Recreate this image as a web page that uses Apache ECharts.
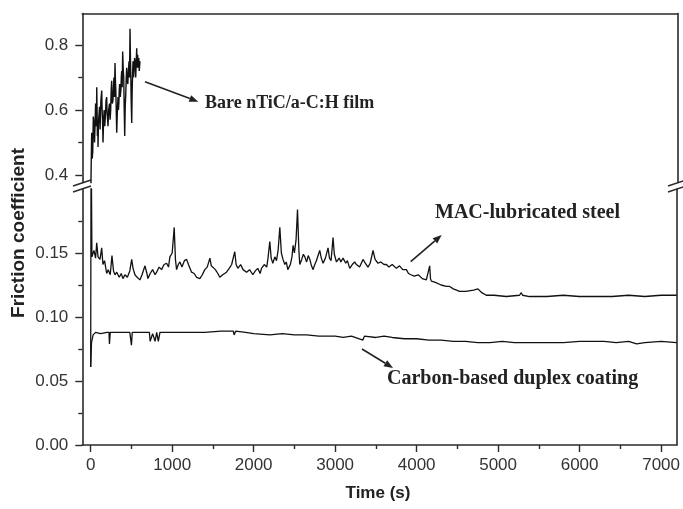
<!DOCTYPE html>
<html>
<head>
<meta charset="utf-8">
<script src="https://cdn.jsdelivr.net/npm/echarts@6/dist/echarts.min.js"></script>
<style>html,body{margin:0;padding:0;background:#fff}#c{width:683px;height:509px}</style>
</head>
<body>
<div id="c"></div>
<script>
// ---- data (time in s, friction coefficient) ----
const xTickValues = [0, 1000, 2000, 3000, 4000, 5000, 6000, 7000];
const xMinorTickValues = [500, 1500, 2500, 3500, 4500, 5500, 6500];
const yLowTickValues = [0, 0.05, 0.10, 0.15];
const yLowMinorValues = [0.025, 0.075, 0.125, 0.175];
const yHighTickValues = [0.4, 0.6, 0.8];
const yHighMinorValues = [0.5, 0.7];

const bareTime = [0,5,12,18,25,32,40,47,53,60,65,70,74,78,82,86,90,95,100,108,115,125,135,140,145,151,158,165,172,180,188,196,201,205,212,220,230,238,245,251,257,261,265,273,279,285,292,298,303,308,313,319,327,335,340,345,350,355,362,370,375,380,386,392,398,405,411,417,423,430,436,441,448,455,462,470,476,482,487,492,497,503,507,510,515,519,525,530,538,545,552,558,564,568,572,576,580,585,590,595,600,604];
const bareCoef = [0.30,0.415,0.53,0.45,0.47,0.58,0.56,0.50,0.55,0.62,0.60,0.55,0.67,0.60,0.52,0.57,0.486,0.56,0.58,0.61,0.54,0.63,0.66,0.60,0.57,0.50,0.57,0.60,0.55,0.58,0.63,0.64,0.59,0.58,0.55,0.60,0.62,0.57,0.60,0.66,0.69,0.64,0.62,0.63,0.67,0.70,0.64,0.745,0.69,0.66,0.60,0.53,0.60,0.64,0.60,0.62,0.66,0.68,0.64,0.66,0.70,0.72,0.67,0.78,0.73,0.70,0.60,0.52,0.61,0.65,0.70,0.73,0.69,0.68,0.72,0.75,0.70,0.85,0.76,0.70,0.62,0.56,0.64,0.68,0.72,0.75,0.70,0.72,0.76,0.74,0.70,0.75,0.79,0.74,0.73,0.77,0.73,0.74,0.76,0.72,0.72,0.75];

const macTime = [0,5,15,40,60,74,90,114,135,150,170,196,215,240,261,280,298,320,350,375,396,420,450,480,503,520,543,570,604,630,666,690,702,730,760,790,809,840,870,900,932,955,972,1000,1025,1040,1054,1075,1095,1120,1150,1177,1200,1238,1270,1300,1340,1370,1400,1430,1463,1480,1499,1530,1560,1585,1620,1667,1700,1730,1768,1785,1806,1840,1870,1913,1950,1990,2020,2050,2080,2096,2130,2160,2174,2198,2215,2235,2260,2280,2300,2321,2340,2360,2382,2400,2419,2450,2470,2484,2500,2520,2538,2555,2566,2590,2610,2628,2650,2670,2689,2710,2729,2750,2770,2790,2811,2830,2852,2880,2913,2930,2950,2974,2990,3016,3050,3070,3097,3130,3150,3179,3210,3240,3261,3300,3342,3370,3403,3430,3465,3490,3526,3560,3600,3629,3660,3700,3752,3790,3830,3874,3900,3930,3970,4020,4070,4119,4140,4160,4170,4181,4230,4300,4365,4400,4450,4528,4600,4700,4752,4800,4855,4950,5100,5263,5284,5300,5385,5600,5800,5998,6200,6400,6600,6800,7000,7191];
const macCoef = [0.061,0.25,0.147,0.152,0.146,0.158,0.147,0.145,0.154,0.141,0.144,0.134,0.137,0.133,0.148,0.136,0.133,0.135,0.131,0.134,0.130,0.133,0.131,0.136,0.145,0.138,0.133,0.131,0.129,0.133,0.140,0.134,0.130,0.134,0.137,0.133,0.135,0.139,0.137,0.141,0.142,0.139,0.147,0.150,0.170,0.145,0.137,0.141,0.143,0.139,0.144,0.145,0.141,0.135,0.134,0.131,0.130,0.133,0.137,0.139,0.146,0.140,0.141,0.137,0.134,0.131,0.133,0.135,0.138,0.141,0.151,0.141,0.138,0.141,0.137,0.135,0.137,0.133,0.136,0.138,0.134,0.138,0.141,0.139,0.145,0.159,0.146,0.142,0.147,0.144,0.152,0.170,0.150,0.145,0.141,0.143,0.137,0.141,0.147,0.156,0.150,0.160,0.184,0.152,0.141,0.145,0.149,0.147,0.143,0.148,0.145,0.140,0.137,0.141,0.144,0.148,0.152,0.146,0.142,0.146,0.154,0.146,0.144,0.162,0.149,0.143,0.146,0.143,0.146,0.142,0.144,0.138,0.141,0.143,0.141,0.139,0.145,0.142,0.139,0.142,0.152,0.145,0.142,0.143,0.141,0.141,0.139,0.141,0.138,0.140,0.137,0.137,0.134,0.133,0.132,0.133,0.130,0.129,0.130,0.140,0.130,0.128,0.127,0.125,0.124,0.124,0.122,0.120,0.120,0.121,0.122,0.119,0.117,0.117,0.116,0.117,0.119,0.117,0.116,0.116,0.117,0.116,0.116,0.116,0.117,0.116,0.117,0.117];

const carbonTime = [0,10,30,60,120,200,225,230,240,350,480,500,510,650,720,730,760,790,810,830,850,1000,1200,1400,1600,1750,1760,1780,1900,2000,2200,2350,2500,2650,2800,3000,3100,3200,3340,3360,3500,3600,3700,3850,4000,4150,4300,4450,4600,4750,4900,5050,5200,5350,5500,5650,5800,6000,6150,6300,6450,6600,6700,6800,7000,7191];
const carbonCoef = [0.061,0.080,0.086,0.088,0.087,0.088,0.088,0.079,0.088,0.088,0.088,0.078,0.088,0.088,0.088,0.081,0.087,0.081,0.088,0.081,0.088,0.088,0.088,0.088,0.089,0.089,0.086,0.089,0.088,0.087,0.086,0.087,0.086,0.086,0.085,0.085,0.084,0.085,0.082,0.085,0.084,0.085,0.084,0.083,0.083,0.082,0.082,0.081,0.081,0.080,0.080,0.081,0.080,0.080,0.080,0.080,0.080,0.081,0.081,0.081,0.080,0.081,0.079,0.080,0.081,0.080];

const zip = (a, b) => a.map((v, i) => [v, b[i]]);

const X_MIN = -103, X_MAX = 7191;
const LOW_MIN = 0, LOW_MAX = 0.2;
const HIGH_MIN = 0.377, HIGH_MAX = 0.897;

const axisCol = '#2a2a2a';
const lblFont = {fontFamily: 'Liberation Sans, Arial, sans-serif', fontSize: 17, color: '#333'};
const annFont = 'bold 20px "Liberation Serif", "Times New Roman", serif';
const annFontSmall = 'bold 18px "Liberation Serif", "Times New Roman", serif';

const bareAxisX = (gridIndex, extra) => Object.assign({
  type: 'value', gridIndex, min: X_MIN, max: X_MAX,
  axisLine: {show: false, onZero: false}, axisTick: {show: false}, axisLabel: {show: false}, splitLine: {show: false}
}, extra);
const bareAxisY = (gridIndex, min, max, extra) => Object.assign({
  type: 'value', gridIndex, min, max,
  axisLine: {show: false, onZero: false}, axisTick: {show: false}, axisLabel: {show: false}, splitLine: {show: false}
}, extra);
const lineOn = {show: true, onZero: false, lineStyle: {color: axisCol, width: 1.6}};

const chart = echarts.init(document.getElementById('c'), null, {renderer: 'canvas'});

function arrow(x1, y1, x2, y2) {
  const ang = Math.atan2(y2 - y1, x2 - x1);
  const L = 9, W = 3.5;
  const bx = x2 - L * Math.cos(ang), by = y2 - L * Math.sin(ang);
  const px = -Math.sin(ang) * W, py = Math.cos(ang) * W;
  return [
    {type: 'line', shape: {x1, y1, x2: bx, y2: by}, style: {stroke: '#222', lineWidth: 1.6}},
    {type: 'polygon', shape: {points: [[x2, y2], [bx + px, by + py], [bx - px, by - py]]}, style: {fill: '#222'}}
  ];
}

const option = {
  animation: false,
  backgroundColor: '#fff',
  grid: [
    {left: 82.3, right: 5.7, top: 13.5, height: 169},
    {left: 82.3, right: 5.7, top: 189, height: 256}
  ],
  xAxis: [
    bareAxisX(0, {position: 'top', axisLine: lineOn}),
    bareAxisX(1, {position: 'bottom',
      axisLine: lineOn,
      axisTick: {show: true, customValues: xTickValues, length: 7, lineStyle: {color: axisCol, width: 1.4}},
      axisLabel: {show: true, customValues: xTickValues, margin: 12, formatter: v => String(Math.round(v)), ...lblFont}
    }),
    bareAxisX(1, {position: 'bottom',
      axisTick: {show: true, customValues: xMinorTickValues, length: 4, lineStyle: {color: axisCol, width: 1.4}}
    })
  ],
  yAxis: [
    bareAxisY(0, HIGH_MIN, HIGH_MAX, {position: 'left',
      axisLine: lineOn,
      axisTick: {show: true, customValues: yHighTickValues, length: 7, lineStyle: {color: axisCol, width: 1.4}},
      axisLabel: {show: true, customValues: yHighTickValues, margin: 14, formatter: v => v.toFixed(1), ...lblFont}
    }),
    bareAxisY(0, HIGH_MIN, HIGH_MAX, {position: 'left',
      axisTick: {show: true, customValues: yHighMinorValues, length: 4, lineStyle: {color: axisCol, width: 1.4}}
    }),
    bareAxisY(0, HIGH_MIN, HIGH_MAX, {position: 'right', axisLine: lineOn}),
    bareAxisY(1, LOW_MIN, LOW_MAX, {position: 'left',
      axisLine: lineOn,
      axisTick: {show: true, customValues: yLowTickValues, length: 7, lineStyle: {color: axisCol, width: 1.4}},
      axisLabel: {show: true, customValues: yLowTickValues, margin: 14, formatter: v => v.toFixed(2), ...lblFont}
    }),
    bareAxisY(1, LOW_MIN, LOW_MAX, {position: 'left',
      axisTick: {show: true, customValues: yLowMinorValues, length: 4, lineStyle: {color: axisCol, width: 1.4}}
    }),
    bareAxisY(1, LOW_MIN, LOW_MAX, {position: 'right', axisLine: lineOn})
  ],
  series: [
    {name: 'Bare nTiC/a-C:H film', type: 'line', xAxisIndex: 0, yAxisIndex: 0, data: zip(bareTime, bareCoef),
      showSymbol: false, clip: true, lineStyle: {color: '#111', width: 1.4}},
    {name: 'MAC-lubricated steel', type: 'line', xAxisIndex: 1, yAxisIndex: 3, data: zip(macTime, macCoef),
      showSymbol: false, clip: true, lineStyle: {color: '#111', width: 1.3}},
    {name: 'Carbon-based duplex coating', type: 'line', xAxisIndex: 1, yAxisIndex: 3, data: zip(carbonTime, carbonCoef),
      showSymbol: false, clip: true, lineStyle: {color: '#111', width: 1.3}}
  ],
  graphic: [
    // axis breaks
    {type: 'line', shape: {x1: 73, y1: 186, x2: 91, y2: 180}, style: {stroke: axisCol, lineWidth: 1.5}},
    {type: 'line', shape: {x1: 73, y1: 192, x2: 91, y2: 186}, style: {stroke: axisCol, lineWidth: 1.5}},
    {type: 'line', shape: {x1: 668, y1: 186, x2: 686, y2: 180}, style: {stroke: axisCol, lineWidth: 1.5}},
    {type: 'line', shape: {x1: 668, y1: 192, x2: 686, y2: 186}, style: {stroke: axisCol, lineWidth: 1.5}},
    // axis titles
    {type: 'text', x: 19, y: 233, rotation: Math.PI / 2,
      style: {text: 'Friction coefficient', font: 'bold 19px "Liberation Sans", Arial, sans-serif', fill: '#222', align: 'center', verticalAlign: 'middle'}},
    {type: 'text', x: 378, y: 493,
      style: {text: 'Time (s)', font: 'bold 17px "Liberation Sans", Arial, sans-serif', fill: '#222', align: 'center', verticalAlign: 'middle'}},
    // annotations
    {type: 'text', x: 205, y: 103, style: {text: 'Bare nTiC/a-C:H film', font: annFontSmall, fill: '#222', align: 'left', verticalAlign: 'middle'}},
    {type: 'text', x: 435, y: 213, style: {text: 'MAC-lubricated steel', font: annFont, fill: '#222', align: 'left', verticalAlign: 'middle'}},
    {type: 'text', x: 387, y: 379, style: {text: 'Carbon-based duplex coating', font: annFont, fill: '#222', align: 'left', verticalAlign: 'middle'}},
    ...arrow(145, 81.7, 198.3, 101.7),
    ...arrow(410.7, 261.7, 441.7, 235),
    ...arrow(362, 349, 393, 368)
  ]
};
chart.setOption(option);
</script>
</body>
</html>
